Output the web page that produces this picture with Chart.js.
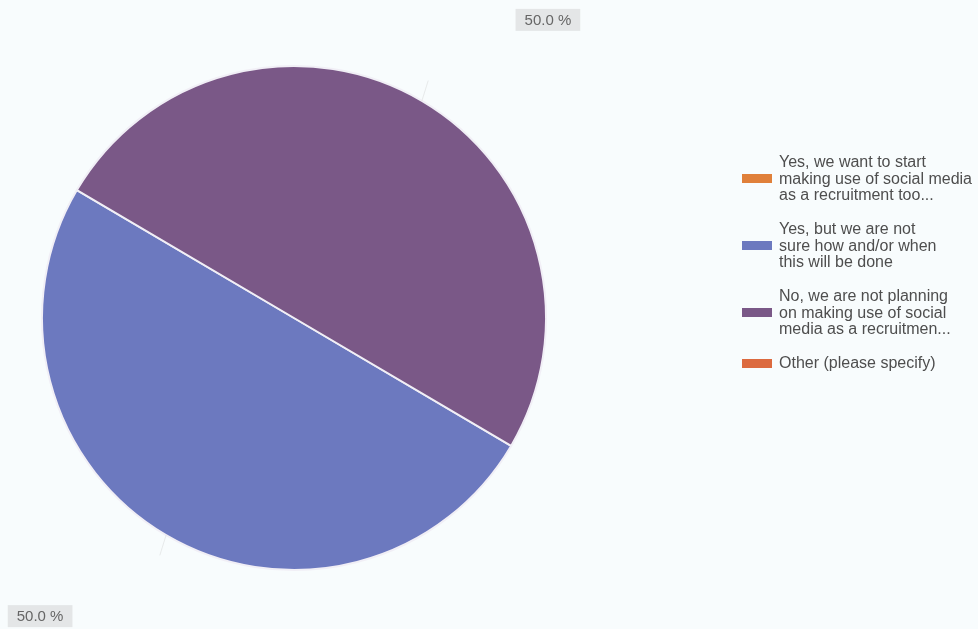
<!DOCTYPE html>
<html>
<head>
<meta charset="utf-8">
<script src="https://cdn.jsdelivr.net/npm/chart.js@4"></script>
<style>
  html, body { margin: 0; padding: 0; background: #f8fcfd; }
  #wrap { position: relative; width: 978px; height: 629px; overflow: hidden; }
  #grafico { position: absolute; left: 0; top: 0; }
  #legenda { position: absolute; left: 742px; top: 154px; font-family: "Liberation Sans", Arial, sans-serif; font-size: 16px; line-height: 16.5px; color: #4e4e4e; }
  .item { display: flex; align-items: center; margin-bottom: 17.5px; white-space: nowrap; }
  .sw { width: 30px; height: 9px; margin-right: 7px; flex: none; }
</style>
</head>
<body>
<div id="wrap">
  <canvas id="grafico" width="978" height="629"></canvas>
  <div id="legenda"></div>
</div>
<script>
const categorias = [
  ['Yes, we want to start', 'making use of social media', 'as a recruitment too...'],
  ['Yes, but we are not', 'sure how and/or when', 'this will be done'],
  ['No, we are not planning', 'on making use of social', 'media as a recruitmen...'],
  ['Other (please specify)']
];
const percentuais = [0, 50.0, 50.0, 0];
const cores = ['#e0803a', '#6c79bf', '#7a5887', '#dc6a3f'];

// legenda em HTML (texto em várias linhas)
const legenda = document.getElementById('legenda');
categorias.forEach((linhas, i) => {
  const div = document.createElement('div');
  div.className = 'item';
  div.innerHTML = `<span class="sw" style="background:${cores[i]}"></span><span>${linhas.join('<br>')}</span>`;
  legenda.appendChild(div);
});

// rótulos "50.0 %" com caixa cinza e linha guia
const rotulos = {
  id: 'rotulos',
  afterDatasetsDraw(chart) {
    const ctx = chart.ctx;
    const arcos = chart.getDatasetMeta(0).data;
    ctx.save();
    ctx.font = '15px "Liberation Sans", Arial, sans-serif';
    ctx.textAlign = 'center';
    ctx.textBaseline = 'middle';
    arcos.forEach((arco, i) => {
      if (!percentuais[i]) return;
      const meio = (arco.startAngle + arco.endAngle) / 2;
      const ex = arco.x + Math.cos(meio) * arco.outerRadius;
      const ey = arco.y + Math.sin(meio) * arco.outerRadius;
      const lx = ex + Math.sign(Math.cos(meio)) * 126;
      const ly = ey + Math.sign(Math.sin(meio)) * 81;
      ctx.strokeStyle = 'rgba(200,200,200,0.35)';
      ctx.lineWidth = 1;
      ctx.beginPath();
      ctx.moveTo(ex, ey);
      ctx.lineTo(ex + (lx - ex) * 0.05, ey + (ly - ey) * 0.25);
      ctx.stroke();
      const texto = percentuais[i].toFixed(1) + ' %';
      const w = ctx.measureText(texto).width + 18;
      ctx.fillStyle = '#e4e6e7';
      ctx.fillRect(lx - w / 2, ly - 11, w, 22);
      ctx.fillStyle = '#666';
      ctx.fillText(texto, lx, ly + 1);
    });
    ctx.restore();
  }
};

const grafico = new Chart(document.getElementById('grafico'), {
  type: 'pie',
  data: {
    labels: categorias.map(l => l.join(' ')),
    datasets: [{
      data: percentuais,
      backgroundColor: cores,
      borderColor: '#f1eff6',
      borderWidth: 2
    }]
  },
  options: {
    responsive: false,
    animation: false,
    rotation: 120.5,
    layout: { padding: { left: 41, right: 431, top: 65, bottom: 58 } },
    plugins: {
      legend: { display: false },
      tooltip: { enabled: false }
    }
  },
  plugins: [rotulos]
});
</script>
</body>
</html>
